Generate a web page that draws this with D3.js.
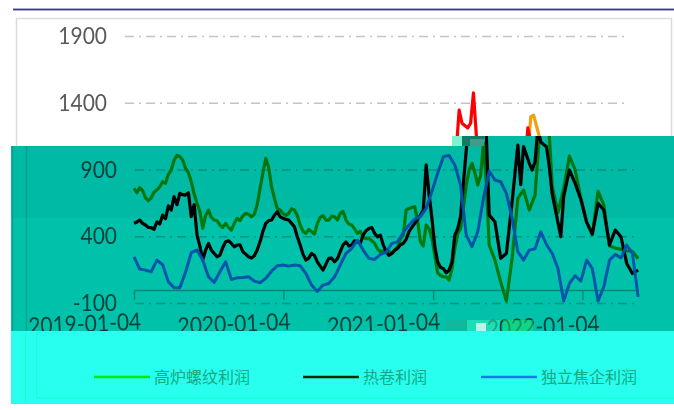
<!DOCTYPE html>
<html><head><meta charset="utf-8">
<script src="https://cdn.jsdelivr.net/npm/d3@7/dist/d3.min.js"></script>
<style>html,body{margin:0;padding:0;background:#fff}svg{display:block}</style>
</head><body><div id="c"></div>
<script>
const seriesNames = ["高炉螺纹利润","热卷利润","独立焦企利润"];
const yTicksTop = [1900,1400];
const yTicksBand = [900,400,-100];
const xTickLabels = ["2019-01-04","2020-01-04","2021-01-04","2022-01-04"];
const orangeWeeks = [0,2,4,6,8,10,12,14,16,18,20,22,24,26,28,30,32,34,36,38,40,42,44,46,48,50,52,54,56,58,60,62,64,66,68,70,72,74,76,78,80,82,84,86,88,90,92,94,96,98,100,102,104,106,108,110,112,114,116,118,120,122,124,126,128,130,132,134,136,138,140,142,143,145,146,148,150,152,154,156,158,160,162,164,166,168,170,172,174,176];
const orangeVals = [762,768,692,692,750,812,868,975,1000,912,812,650,462,600,525,488,500,450,538,558,568,568,762,988,775,612,575,575,600,488,425,438,500,558,525,550,575,525,488,425,400,388,350,288,300,275,325,412,612,625,362,488,388,130,100,75,312,462,788,950,788,1100,338,225,62,-82,238,688,750,600,712,1300,1310,1150,780,580,760,1005,900,690,510,415,740,640,330,315,305,295,290,235];
const orangeOddWeeks = [1,3,5,7,9,11,13,15,17,19,21,23,25,27,29,31,33,35,37,39,41,43,45,47,49,51,53,55,57,59,61,63,65,67,69,71,73,75,77,79,81,83,85,87,89,91,93,95,97,99,101,103,105,107,109,111,113,115,117,119,121,123];
const orangeOddVals = [730,745,670,735,775,800,900,1010,975,880,720,590,560,545,520,470,470,500,520,575,550,640,880,920,690,600,560,610,560,440,455,420,545,525,555,525,590,495,460,440,385,370,310,295,290,295,380,600,620,520,330,460,260,110,100,160,420,620,900,880,860,800];
const redWeeks = [0,2,4,6,8,10,12,14,16,18,20,22,24,26,28,30,32,34,36,38,40,42,44,46,48,50,52,54,56,58,60,62,64,66,68,70,72,74,76,78,80,82,84,86,88,90,92,94,96,98,100,102,104,106,108,110,112,114,116,117,118,120,121,122,123,124,126,128,130,132,134,135,136,138,139,140,141,142,144,145,146,148,149,150,152,154,156,158,160,162,164,166,168,170,172,174,176];
const redVals = [500,525,488,468,512,562,632,700,725,712,550,412,225,350,275,262,362,350,338,288,250,258,362,500,525,588,538,525,475,338,225,275,212,150,238,212,288,362,338,362,412,462,425,412,288,275,312,350,438,500,562,938,538,212,162,150,412,550,1050,1349,1250,1215,1250,1477,1160,562,512,238,275,662,1087,790,1075,950,900,962,1215,1110,1075,920,720,508,400,700,900,800,680,510,420,650,600,338,450,400,200,125,150];
const redOddWeeks = [1,3,5,7,9,11,13,15,17,19,21,23,25,27,29,31,33,35,37,39,41,43,45,47,49,51,53,55,57,59,61,63,65,67,69,71,73,75,77,79,81,83,85,87,89,91,93,95,97,99,101,103,105,107,109,111,113,115];
const redOddVals = [510,500,470,455,495,535,600,640,715,730,640,330,300,300,250,320,370,325,340,270,240,300,440,520,560,550,530,500,400,270,240,260,180,195,240,235,340,330,370,350,445,470,400,340,260,300,340,380,470,530,600,720,330,170,130,210,460,800];
const blueVals = [250,158,150,138,225,190,62,18,18,135,282,300,225,100,58,138,212,80,92,95,100,68,55,88,142,182,188,180,188,182,125,38,-10,38,50,100,188,275,312,375,300,238,230,268,282,350,362,432,488,532,550,612,738,875,1000,1008,938,788,412,325,438,688,892,825,812,725,538,288,225,300,310,438,342,275,162,-82,50,108,68,225,162,-82,25,225,268,242,338,275,-50];
const blueWeeks = blueVals.map((_,i)=>i*2);
const legendColors = ["#00e818","#0e2a00","#1580d8"];
const ghostBlocks = [[452,136,10,10,"#7ff2d2",1],[462,136,22,10,"#0f7c68",1],[470,139,14,7,"#3f9c88",1],[445,320,22,11,"#12b79a",.8],[467,320,33,11,"#33f5c0",.55],[476,323,10,8,"#ffffff",.7],[503,320,30,11,"#22e070",.55]];

const W=674,H=410;
const svg=d3.select("#c").append("svg").attr("width",W).attr("height",H).style("isolation","isolate");
svg.append("rect").attr("width",W).attr("height",H).attr("fill","#fff");
const x=d3.scaleTime().domain([new Date(2019,0,4),new Date(2022,0,4)]).range([124,572.5]);
const y=d3.scaleLinear().domain([-100,1900]).range([303.5,36.5]);
const wk=w=>d3.timeDay.offset(new Date(2019,0,4),w*7);
const line=d3.line().x(d=>x(wk(d[0]))).y(d=>y(d[1])).curve(d3.curveLinear);
const fmt=d3.timeFormat("%Y-%m-%d");
const font="Lato, 'Open Sans', sans-serif";
const zip=(w,v)=>w.map((d,i)=>[d,v[i]]);
const byWeek=a=>a.sort((p,q)=>p[0]-q[0]);

const defs=svg.append("defs");
defs.append("clipPath").attr("id","cTop").append("path").attr("d","M0,0H674V136H452V146H0Z");
defs.append("clipPath").attr("id","cTeal").append("path").attr("d","M11,146H452V136H674V331H11Z");

function draw(g,ticks,showAxis){
  g.append("rect").attr("x",16.5).attr("y",18.5).attr("width",655).attr("height",379).attr("fill","none").attr("stroke","#dcdcdc").attr("stroke-width",1.5);
  g.selectAll("line.grid").data(ticks).join("line").attr("class","grid")
    .attr("x1",125).attr("x2",628).attr("y1",d=>y(d)).attr("y2",d=>y(d))
    .attr("stroke","#c4c4c4").attr("stroke-width",1.5).attr("stroke-dasharray","9 5 2 5");
  g.selectAll("text.yl").data(ticks).join("text").attr("class","yl")
    .attr("transform",d=>`translate(107,${y(d)+7.5}) scale(1,1.12)`).attr("text-anchor","end")
    .attr("font-family",font).attr("font-size",21).attr("fill","#595959").text(d=>d);
  if(showAxis){
    const ax=g.append("g").attr("transform","translate(0,290)")
      .call(d3.axisBottom(x).tickValues(xTickLabels.map(s=>d3.timeParse("%Y-%m-%d")(s))).tickSize(10).tickSizeOuter(0).tickFormat(fmt));
    ax.select(".domain").attr("stroke","#b0b0b0").attr("stroke-width",1.5).attr("d","M124,0.5H627");
    ax.selectAll(".tick line").attr("stroke","#b0b0b0").attr("stroke-width",1.5);
    ax.selectAll(".tick text").attr("y",0).attr("dy",0).attr("text-anchor","end")
      .attr("font-family",font).attr("font-size",21).attr("fill","#595959")
      .attr("transform",(d,i)=>i===3?"translate(17,42) rotate(-2.5) scale(1,1.12)":"translate(7,39.5) rotate(-2.5) scale(1,1.12)");
  }
  const s=[[byWeek(zip(orangeWeeks,orangeVals).concat(zip(orangeOddWeeks,orangeOddVals))),"#f2a012",3.2],
           [byWeek(zip(redWeeks,redVals).concat(zip(redOddWeeks,redOddVals))),"#ff0000",3.2],
           [zip(blueWeeks,blueVals),"#106fff",3]];
  s.forEach(([pts,c,sw])=>{
    g.append("path").datum(pts).attr("fill","none").attr("stroke",c)
     .attr("stroke-width",sw).attr("stroke-linejoin","round").attr("d",line);
  });
}
const topG=svg.append("g").attr("clip-path","url(#cTop)");
draw(topG,yTicksTop,false);
svg.append("rect").attr("x",13).attr("y",8.6).attr("width",661).attr("height",1.8).attr("fill","#33339c");

// displaced teal band: same chart moved right
svg.append("rect").attr("x",11).attr("y",136).attr("width",663).attr("height",195).attr("fill","#fff").attr("clip-path","url(#cTeal)");
const tealG=svg.append("g").attr("clip-path","url(#cTeal)").append("g").attr("transform","translate(10,0)");
draw(tealG,yTicksBand,true);
const tealOver=svg.append("g").attr("clip-path","url(#cTeal)").style("mix-blend-mode","multiply");
tealOver.append("rect").attr("x",11).attr("y",136).attr("width",663).attr("height",82).attr("fill","#00baa5");
tealOver.append("rect").attr("x",11).attr("y",218).attr("width",663).attr("height",113).attr("fill","#00c2aa");
svg.append("rect").attr("x",12).attr("y",146).attr("width",1.2).attr("height",185).attr("fill","#0a9e8c");

svg.selectAll("rect.gb").data(ghostBlocks).join("rect").attr("class","gb")
  .attr("x",d=>d[0]).attr("y",d=>d[1]).attr("width",d=>d[2]).attr("height",d=>d[3]).attr("fill",d=>d[4]).attr("fill-opacity",d=>d[5]);

// cyan band with legend
svg.append("rect").attr("x",11).attr("y",331).attr("width",663).attr("height",73).attr("fill","#28ffee");
svg.append("rect").attr("x",25).attr("y",331).attr("width",1).attr("height",73).attr("fill","#14ffd6");
svg.append("rect").attr("x",36).attr("y",331).attr("width",1.2).attr("height",67).attr("fill","#14ffd6");
svg.append("rect").attr("x",36).attr("y",397.5).attr("width",638).attr("height",1.2).attr("fill","#14ffd6");
const lx=[94,303,481], lt=[154,363,541];
const lg=svg.selectAll("g.lg").data(seriesNames).join("g").attr("class","lg");
lg.append("line").attr("x1",(d,i)=>lx[i]).attr("x2",(d,i)=>lx[i]+56).attr("y1",377).attr("y2",377)
  .attr("stroke",(d,i)=>legendColors[i]).attr("stroke-width",2.5);
lg.append("text").attr("x",(d,i)=>lt[i]).attr("y",383).attr("font-family","'Noto Sans CJK SC'").attr("font-size",16).attr("fill","#18a884").text(d=>d);
</script></body></html>
